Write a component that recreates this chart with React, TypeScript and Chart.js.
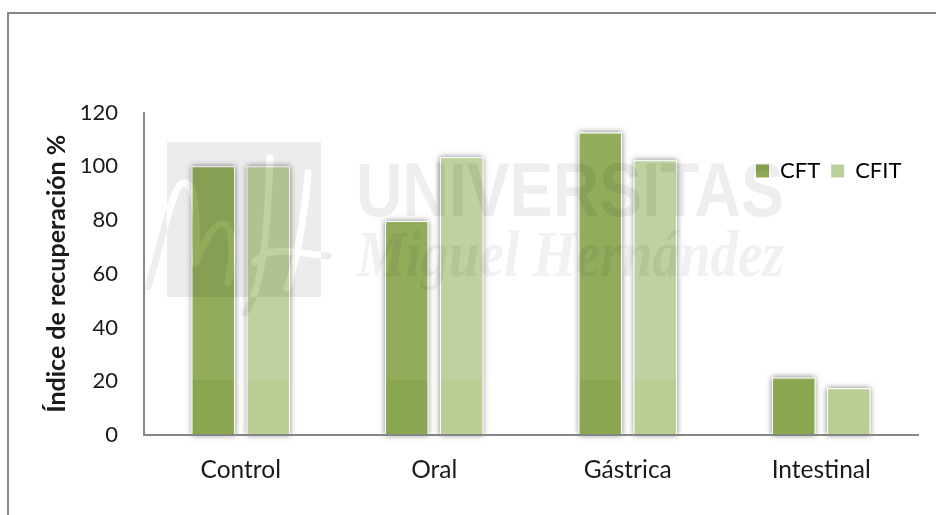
import React, { useEffect, useRef } from "react";
import { Chart, registerables } from "chart.js";

Chart.register(...registerables);

const categories = ["Control", "Oral", "Gástrica", "Intestinal"];
const cftValues = [100, 79.6, 112.6, 21.4];
const cfitValues = [100, 103.4, 102.2, 17.4];
const yTicks = [0, 20, 40, 60, 80, 100, 120];
const bandValue = 20.3;

const FONT = "Lato, Carlito, sans-serif";
const INK = "#1a1a1a";
const LINE = "#868686";

function bandFill(top: string, bottom: string) {
  return (ctx: any) => {
    const { chart } = ctx;
    const y = chart.scales.y;
    if (!chart.chartArea || !y) return top;
    const g = chart.ctx.createLinearGradient(0, y.top, 0, y.bottom);
    const s = (y.getPixelForValue(bandValue) - y.top) / (y.bottom - y.top);
    g.addColorStop(0, top);
    g.addColorStop(s, top);
    g.addColorStop(s, bottom);
    g.addColorStop(1, bottom);
    return g;
  };
}

const framePlugin = {
  id: "frame",
  beforeDraw(chart: any) {
    const c = chart.ctx;
    c.save();
    c.strokeStyle = LINE;
    c.lineWidth = 2;
    c.beginPath();
    c.moveTo(8, chart.height);
    c.lineTo(8, 13);
    c.lineTo(chart.width, 13);
    c.stroke();
    c.restore();
  },
};

const legendPlacePlugin = {
  id: "legendPlace",
  afterLayout(chart: any) {
    const l = chart.legend;
    const h = l.height;
    l.left = 745;
    l.right = 925;
    l.top = 149;
    l.bottom = 149 + h;
  },
};

const shadowPlugin = {
  id: "barShadow",
  beforeDatasetsDraw(chart: any) {
    const c = chart.ctx;
    c.save();
    c.shadowColor = "rgba(0,0,0,0.5)";
    c.shadowBlur = 6;
    c.fillStyle = "#ffffff";
    chart.getSortedVisibleDatasetMetas().forEach((meta: any) => {
      meta.data.forEach((bar: any) => {
        const w = bar.width;
        c.fillRect(bar.x - w / 2, bar.y, w, bar.base - bar.y);
      });
    });
    c.restore();
  },
};

function logoStrokes(c: CanvasRenderingContext2D) {
  c.beginPath();
  c.moveTo(148, 287);
  c.bezierCurveTo(160, 250, 172, 185, 183, 183);
  c.bezierCurveTo(198, 180, 198, 235, 195, 263);
  c.bezierCurveTo(205, 240, 215, 222, 224, 224);
  c.bezierCurveTo(236, 228, 232, 265, 228, 283);
  c.moveTo(270, 158);
  c.bezierCurveTo(268, 215, 265, 285, 245, 313);
  c.moveTo(308, 173);
  c.bezierCurveTo(305, 215, 296, 265, 287, 288);
  c.moveTo(255, 262);
  c.bezierCurveTo(270, 245, 290, 252, 328, 256);
  c.stroke();
}

const watermarkPlugin = {
  id: "watermark",
  afterDatasetsDraw(chart: any) {
    const off = document.createElement("canvas");
    off.width = chart.width;
    off.height = chart.height;
    const o = off.getContext("2d") as CanvasRenderingContext2D;
    o.lineCap = "round";
    o.lineJoin = "round";
    o.lineWidth = 7;
    o.strokeStyle = "#eeeeee";
    logoStrokes(o);
    o.clearRect(167, 142, 154, 155);
    o.fillStyle = "#ececec";
    o.fillRect(167, 142, 154, 155);
    o.globalCompositeOperation = "destination-out";
    o.strokeStyle = "#000";
    o.save();
    o.beginPath();
    o.rect(167, 142, 154, 155);
    o.clip();
    logoStrokes(o);
    o.restore();
    o.globalCompositeOperation = "source-over";
    o.fillStyle = "#eeeeee";
    o.font = "bold 76px 'Liberation Sans', sans-serif";
    o.textBaseline = "alphabetic";
    o.fillText("UNIVERSITAS", 356, 216, 428);
    o.fillStyle = "#f1f1f1";
    o.font = "italic bold 66px 'Liberation Serif', serif";
    o.fillText("Miguel Hernández", 357, 276, 427);
    const c = chart.ctx;
    c.save();
    c.globalCompositeOperation = "multiply";
    c.drawImage(off, 0, 0);
    c.restore();
  },
};

export default function App() {
  const ref = useRef<HTMLCanvasElement>(null);
  useEffect(() => {
    const cftColor = "#8fa956";
    const cfitColor = "#bcd09b";
    const chart = new Chart(ref.current as HTMLCanvasElement, {
      type: "bar",
      data: {
        labels: categories,
        datasets: [
          {
            label: "CFT",
            data: cftValues,
            backgroundColor: bandFill("#92ac5c", "#8ba650"),
            borderColor: "#ffffff",
            borderWidth: 1,
            clip: false,
          },
          {
            label: "CFIT",
            data: cfitValues,
            backgroundColor: bandFill("#bfd19e", "#b9cd94"),
            borderColor: "#ffffff",
            borderWidth: 1,
            clip: false,
          },
        ],
      } as any,
      plugins: [framePlugin, legendPlacePlugin, shadowPlugin, watermarkPlugin],
      options: {
        animation: false,
        responsive: false,
        devicePixelRatio: 1,
        layout: { padding: { left: 42, top: 69.5, right: 18, bottom: 0 } },
        datasets: { bar: { categoryPercentage: 0.5685, barPercentage: 0.79 } },
        plugins: {
          title: { display: false },
          tooltip: { enabled: false },
          legend: {
            position: "top",
            align: "start",
            labels: {
              boxWidth: 13,
              boxHeight: 13,
              padding: 11,
              color: INK,
              font: { family: FONT, size: 22 },
              generateLabels: () => [
                { text: "CFT", fillStyle: cftColor, strokeStyle: "transparent", lineWidth: 0, datasetIndex: 0 },
                { text: "CFIT", fillStyle: cfitColor, strokeStyle: "transparent", lineWidth: 0, datasetIndex: 1 },
              ],
            },
          },
        },
        scales: {
          x: {
            grid: { display: false, drawTicks: false },
            border: { color: LINE, width: 2, z: 1 },
            ticks: { color: INK, font: { family: FONT, size: 24.5 }, padding: 20, maxRotation: 0 },
            afterFit: (s: any) => {
              s.height = 80;
            },
          },
          y: {
            min: 0,
            max: 120,
            afterBuildTicks: (s: any) => {
              s.ticks = yTicks.map((value) => ({ value }));
            },
            grid: { display: false, drawTicks: false },
            border: { color: LINE, width: 2, z: 1 },
            ticks: { color: INK, font: { family: FONT, size: 22 }, padding: 26 },
            title: {
              display: true,
              text: "Índice de recuperación %",
              color: INK,
              font: { family: FONT, size: 25, weight: "bold" },
              padding: 0,
            },
            afterFit: (s: any) => {
              s.width = 102;
            },
          },
        },
      } as any,
    });
    return () => chart.destroy();
  }, []);
  return (
    <div style={{ position: "fixed", left: 0, top: 0, width: 936, height: 515, background: "#fff" }}>
      <canvas ref={ref} width={936} height={515} style={{ display: "block" }} />
    </div>
  );
}
